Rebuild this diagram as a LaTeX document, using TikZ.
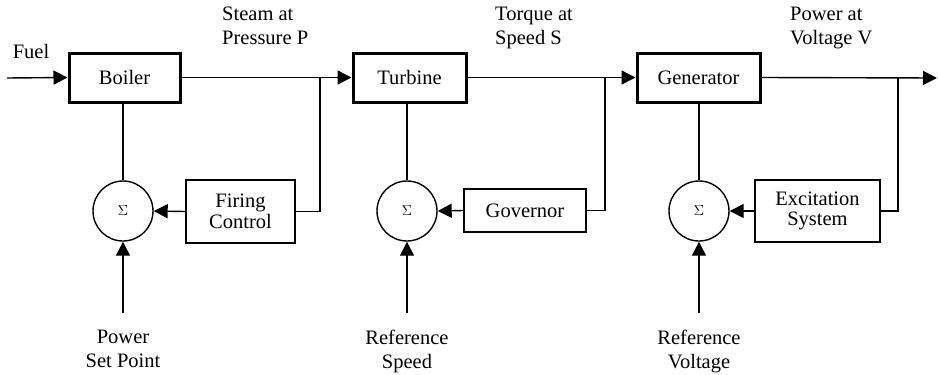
\documentclass[tikz,border=0pt]{standalone}
\usepackage{fontspec}
\setmainfont{Liberation Serif}
\usetikzlibrary{arrows.meta}
\begin{document}
\begin{tikzpicture}[x=1pt,y=-1pt,
  every node/.style={font=\fontsize{20.5}{23.5}\selectfont},
  plant/.style={draw,line width=3pt,minimum width=#1,minimum height=49pt,inner sep=0pt},
  ctrl/.style={draw,line width=1.4pt,minimum width=#1,inner sep=0pt,align=center},
  sumnode/.style={draw,circle,line width=1.4pt,minimum size=60pt,inner sep=0pt,font=\fontsize{15}{17}\selectfont},
  lbl/.style={align=left,anchor=north west,inner sep=0pt},
  inp/.style={align=center,inner sep=0pt},
  wire/.style={line width=1.4pt},
  arr/.style={wire,-{Triangle[length=14pt,width=14pt]}}]
\useasboundingbox (0,0) rectangle (938,375);
% plants
\node[plant=111pt] (boiler) at (124.5,77.5) {Boiler};
\node[plant=113pt] (turbine) at (409.5,77.5) {Turbine};
\node[plant=123pt] (gen) at (698.5,77.5) {Generator};
% sums
\node[sumnode] (s1) at (123,211) {$\Sigma$};
\node[sumnode] (s2) at (407,211) {$\Sigma$};
\node[sumnode] (s3) at (699,211) {$\Sigma$};
% controllers
\node[ctrl=109pt,minimum height=63pt] (fire) at (240.5,211.5) {Firing\\[-3pt]Control};
\node[ctrl=122pt,minimum height=43pt] (gov) at (525,210.5) {Governor};
\node[ctrl=125pt,minimum height=62pt] (exc) at (817.5,211) {Excitation\\[-3pt]System};
% coordinates
\coordinate (fin) at (7,78);
\coordinate (b1) at (320,78);
\coordinate (b2) at (605,78);
\coordinate (b3) at (898,78);
\coordinate (out) at (937,78);
\coordinate (p1) at (123,313);
\coordinate (p2) at (407,313);
\coordinate (p3) at (699,313);
% labels
\node at (31,51) {Fuel};
\node[lbl] at (222,7) {Steam at\\Pressure P};
\node[lbl] at (495,7) {Torque at\\Speed S};
\node[lbl] at (790,7) {Power at\\Voltage V};
\node[inp,anchor=north] (l1) at (123,330) {Power\\Set Point};
\node[inp,anchor=north] (l2) at (407,330) {Reference\\Speed};
\node[inp,anchor=north] (l3) at (699,330) {Reference\\Voltage};
% main path
\draw[arr] (fin) -- (boiler.west);
\draw[arr] (boiler.east) -- (turbine.west);
\draw[arr] (turbine.east) -- (gen.west);
\draw[arr] (gen.east) -- (out);
% verticals
\draw[wire] (s1.north) -- (boiler.south -| s1.north);
\draw[wire] (s2.north) -- (turbine.south -| s2.north);
\draw[wire] (s3.north) -- (gen.south -| s3.north);
% feedback
\draw[wire] (b1) |- (fire.east);
\draw[wire] (b2) |- (gov.east);
\draw[wire] (b3) |- (exc.east);
\draw[arr] (fire.west) -- (s1.east);
\draw[arr] (gov.west) -- (s2.east);
\draw[arr] (exc.west) -- (s3.east);
% set points
\draw[arr] (p1) -- (s1.south);
\draw[arr] (p2) -- (s2.south);
\draw[arr] (p3) -- (s3.south);
\end{tikzpicture}
\end{document}
